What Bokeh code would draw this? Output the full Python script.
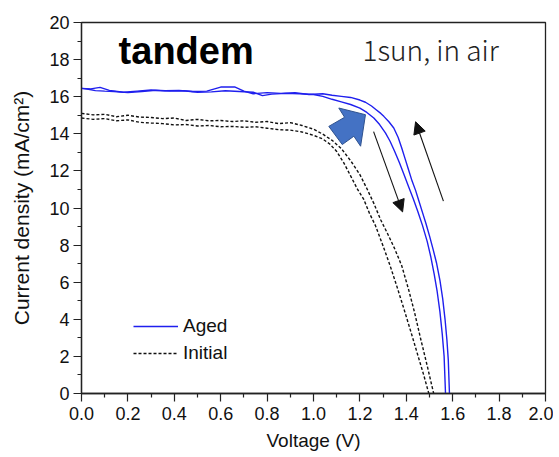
from bokeh.plotting import figure
from bokeh.models import (Range1d, FixedTicker, PrintfTickFormatter, Legend, LegendItem,
                          Label, Arrow, NormalHead)
from bokeh.embed import file_html
from bokeh.resources import INLINE

# ---- data ----
aged_rev_v = [0.00, 0.04, 0.08, 0.12, 0.18, 0.24, 0.30, 0.36, 0.42, 0.48, 0.54, 0.60, 0.66, 0.70,
              0.74, 0.80, 0.86, 0.92, 0.98, 1.04, 1.08, 1.12, 1.16, 1.20, 1.224, 1.25, 1.27, 1.29,
              1.303, 1.325, 1.346, 1.365, 1.38, 1.395, 1.41, 1.425, 1.44, 1.455, 1.47, 1.485,
              1.50, 1.515, 1.53, 1.545, 1.557, 1.567, 1.575, 1.581, 1.586]
aged_rev_j = [16.45, 16.42, 16.50, 16.34, 16.24, 16.30, 16.36, 16.32, 16.34, 16.28, 16.30, 16.52,
              16.53, 16.30, 16.16, 16.22, 16.18, 16.22, 16.12, 16.16, 16.08, 16.02, 15.96, 15.82,
              15.70, 15.50, 15.30, 15.10, 14.94, 14.65, 14.31, 13.80, 13.25, 12.65, 12.05, 11.45,
              10.95, 10.35, 9.75, 9.15, 8.50, 7.80, 7.05, 6.10, 5.10, 4.00, 2.90, 1.80, 0.00]

aged_fwd_v = [0.00, 0.03, 0.06, 0.10, 0.14, 0.20, 0.26, 0.32, 0.38, 0.44, 0.50, 0.56, 0.62, 0.68,
              0.74, 0.78, 0.82, 0.88, 0.94, 1.00, 1.04, 1.08, 1.12, 1.16, 1.20, 1.23, 1.26, 1.285,
              1.31, 1.33, 1.35, 1.37, 1.39, 1.41, 1.43, 1.45, 1.47, 1.49, 1.505, 1.52, 1.533,
              1.545, 1.555, 1.563, 1.569]
aged_fwd_j = [16.45, 16.40, 16.33, 16.30, 16.28, 16.22, 16.28, 16.34, 16.30, 16.32, 16.24, 16.26,
              16.32, 16.28, 16.24, 16.06, 16.14, 16.18, 16.16, 16.12, 16.02, 15.86, 15.72, 15.58,
              15.38, 15.15, 14.85, 14.50, 14.05, 13.60, 13.05, 12.45, 11.80, 11.15, 10.50, 9.80,
              9.05, 8.20, 7.40, 6.45, 5.50, 4.40, 3.20, 2.00, 0.00]

init_rev_v = [0.00, 0.05, 0.10, 0.15, 0.20, 0.25, 0.30, 0.35, 0.40, 0.45, 0.50, 0.55, 0.60, 0.65,
              0.70, 0.75, 0.80, 0.85, 0.90, 0.95, 1.00, 1.04, 1.08, 1.12, 1.16, 1.20, 1.23, 1.26,
              1.29, 1.32, 1.35, 1.38, 1.41, 1.435, 1.46, 1.49, 1.518]
init_rev_j = [15.10, 15.02, 15.05, 14.92, 15.00, 14.90, 14.88, 14.82, 14.85, 14.72, 14.78, 14.70,
              14.72, 14.66, 14.70, 14.62, 14.66, 14.55, 14.60, 14.45, 14.25, 13.98, 13.65, 13.20,
              12.55, 11.80, 11.05, 10.25, 9.35, 8.60, 7.80, 6.90, 5.60, 4.40, 3.05, 1.50, 0.00]

init_fwd_v = [0.00, 0.05, 0.10, 0.15, 0.20, 0.25, 0.30, 0.35, 0.40, 0.45, 0.50, 0.55, 0.60, 0.65,
              0.70, 0.75, 0.80, 0.85, 0.90, 0.95, 1.00, 1.04, 1.07, 1.10, 1.13, 1.16, 1.19, 1.216,
              1.24, 1.267, 1.30, 1.33, 1.36, 1.39, 1.418, 1.45, 1.475, 1.497]
init_fwd_j = [14.85, 14.78, 14.82, 14.70, 14.75, 14.62, 14.58, 14.55, 14.48, 14.50, 14.42, 14.45,
              14.38, 14.40, 14.35, 14.38, 14.30, 14.22, 14.20, 14.10, 13.92, 13.72, 13.45, 13.05,
              12.45, 11.73, 11.00, 10.48, 9.75, 9.05, 7.95, 6.90, 5.75, 4.55, 3.40, 2.05, 1.00, 0.00]

x_ticks = [0.0, 0.2, 0.4, 0.6, 0.8, 1.0, 1.2, 1.4, 1.6, 1.8, 2.0]
y_ticks = [0, 2, 4, 6, 8, 10, 12, 14, 16, 18, 20]

# annotation shapes (data units)
block_arrow_v = [1.066, 1.134, 1.109, 1.224, 1.203, 1.174, 1.124]
block_arrow_j = [14.40, 14.89, 15.39, 15.03, 13.33, 13.87, 13.42]
arrow_down = (1.259, 14.12, 1.384, 9.79)
arrow_up = (1.560, 10.37, 1.440, 14.65)

FONT = "Liberation Sans"
BLUE = "#1f1fee"

p = figure(width=553, height=453, output_backend="svg", toolbar_location=None,
           x_range=Range1d(0, 2), y_range=Range1d(0, 20),
           min_border_left=81, min_border_right=8, min_border_top=22, min_border_bottom=57)
p.background_fill_color = "white"
p.border_fill_color = "white"
p.xgrid.visible = False
p.ygrid.visible = False
p.outline_line_color = "#222222"
p.outline_line_width = 1.3

for ax, ticks, fmt in ((p.xaxis[0], x_ticks, "%.1f"), (p.yaxis[0], y_ticks, "%d")):
    ax.ticker = FixedTicker(ticks=ticks,
                            minor_ticks=[(ticks[i] + ticks[i + 1]) / 2 for i in range(len(ticks) - 1)])
    ax.formatter = PrintfTickFormatter(format=fmt)
    ax.major_tick_in = 0
    ax.major_tick_out = 8
    ax.minor_tick_in = 0
    ax.minor_tick_out = 4
    ax.axis_line_color = "#222222"
    ax.axis_line_width = 1.3
    ax.major_tick_line_color = "#222222"
    ax.minor_tick_line_color = "#222222"
    ax.major_tick_line_width = 1.2
    ax.minor_tick_line_width = 1.2
    ax.major_label_text_font = FONT
    ax.major_label_text_font_size = "18px"
    ax.major_label_text_color = "#111111"
    ax.axis_label_text_font = FONT
    ax.axis_label_text_font_style = "normal"
    ax.axis_label_text_color = "#111111"

p.xaxis.axis_label = "Voltage (V)"
p.xaxis.axis_label_text_font_size = "19px"
p.xaxis.major_label_standoff = 5
p.xaxis.axis_label_standoff = 7
p.yaxis.axis_label = "Current density (mA/cm²)"
p.yaxis.axis_label_text_font_size = "21px"
p.yaxis.major_label_standoff = 4
p.yaxis.axis_label_standoff = 13

r_aged = p.line(aged_rev_v, aged_rev_j, line_color=BLUE, line_width=1.4)
p.line(aged_fwd_v, aged_fwd_j, line_color=BLUE, line_width=1.4)
r_init = p.line(init_rev_v, init_rev_j, line_color="#111111", line_width=1.4, line_dash="3 2")
p.line(init_fwd_v, init_fwd_j, line_color="#111111", line_width=1.4, line_dash="3 2")

# block arrow
p.patch(block_arrow_v, block_arrow_j, fill_color="#4472C4", line_color="#2F528F", line_width=1)

# scan direction arrows
for (x0, y0, x1, y1) in (arrow_down, arrow_up):
    p.add_layout(Arrow(x_start=x0, y_start=y0, x_end=x1, y_end=y1, line_color="#111111",
                       line_width=1.1,
                       end=NormalHead(size=12, fill_color="#111111", line_color="#111111")))

# texts
p.add_layout(Label(x=0.16, y=18.45, text="tandem", text_font=FONT, text_font_size="38px",
                   text_font_style="bold", text_color="black", text_baseline="alphabetic"))
p.add_layout(Label(x=1.211, y=18.55, text="1sun, in air",
                   text_font="'Noto Sans CJK JP Light', 'Noto Sans CJK JP'",
                   text_font_size="28px", text_color="#222222", text_baseline="alphabetic"))

legend = Legend(items=[LegendItem(label="Aged", renderers=[r_aged]),
                       LegendItem(label="Initial", renderers=[r_init])],
                location=(52, 29), orientation="vertical")
legend.border_line_color = None
legend.background_fill_alpha = 0
legend.padding = 0
legend.margin = 0
legend.spacing = 5
legend.glyph_width = 45
legend.glyph_height = 20
legend.label_standoff = 5
legend.label_text_font = FONT
legend.label_text_font_size = "19px"
legend.label_text_color = "#111111"
legend.label_height = 20
p.add_layout(legend)

open("out.html", "w").write(file_html(p, INLINE))
